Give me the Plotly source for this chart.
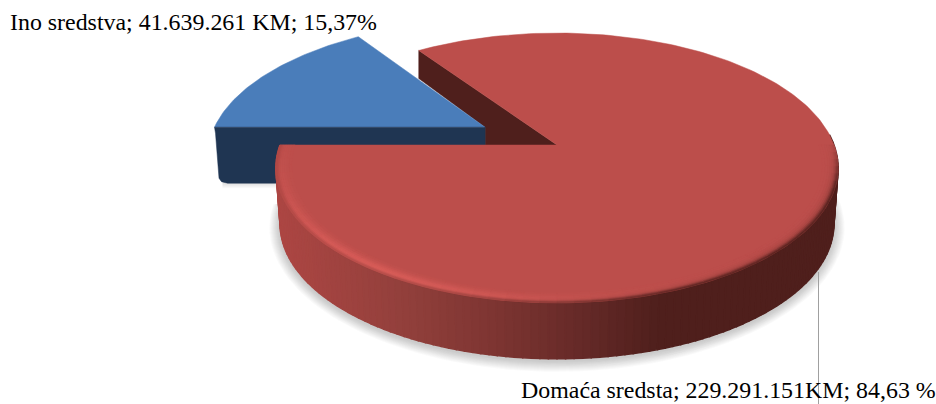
import numpy as np
import plotly.graph_objects as go

# --- data -------------------------------------------------------------
categories = ["Ino sredstva", "Domaća sredsta"]
values = [41639261, 229291151]
labels = ["Ino sredstva; 41.639.261 KM; 15,37%", "Domaća sredsta; 229.291.151KM; 84,63 %"]

# --- projection of the tilted disc onto the page ------------------------
W, H = 936, 404
CX, CY, SX, SY, PERSP = 557.0, 145.0, 277.0, 131.0, 0.17
DEPTH, INSET = 56.0, 0.985
EXPLODE = 0.30
START = 180.0  # first slice starts at the left, running clockwise

def project(X, Y):
    d = 1 + PERSP * np.asarray(Y)
    return CX + SX * np.asarray(X) / d, CY - SY * np.asarray(Y) / d

def disc(theta, r=1.0, ox=0.0, oy=0.0):
    t = np.radians(theta)
    return project(ox + r * np.cos(t), oy + r * np.sin(t))

def lower(x, y):
    return CX + (np.asarray(x) - CX) * INSET, np.asarray(y) + DEPTH

def hex2rgb(c):
    return np.array([int(c[i:i + 2], 16) for i in (1, 3, 5)], float)

def mix(a, b, t):
    return a + (b - a) * t

def css(c):
    return "rgb(%d,%d,%d)" % tuple(np.clip(np.round(c), 0, 255))

fig = go.Figure()

def poly(x, y, color, lw=1.0):
    x, y = list(np.ravel(x)), list(np.ravel(y))
    fig.add_trace(go.Scatter(x=x + x[:1], y=y + y[:1], mode="lines", fill="toself",
                             fillcolor=color, line=dict(color=color, width=lw),
                             hoverinfo="skip", showlegend=False))

RED_TOP, BLUE_TOP = "#BC4E4B", "#4A7DBA"
RED_WALL, BLUE_WALL = "#4F1F1C", "#1F3552"
total = sum(values)
blue_sweep = 360.0 * values[0] / total
blue_a, blue_b = START - blue_sweep, START       # blue spans these angles
red_a, red_b = START, START - blue_sweep + 360   # red spans these angles
mid = np.radians((blue_a + blue_b) / 2)
ox, oy = EXPLODE * np.cos(mid), EXPLODE * np.sin(mid)

# soft shadows (front part of the disc only)
th = np.linspace(180, 400, 111)
lx, ly = lower(*disc(th))
cxs, cys = CX, CY + 20
for d in range(11, 0, -1):
    dx, dy = lx - cxs, ly - cys
    n = np.hypot(dx, dy)
    poly(cxs + dx * (1 + d / n), cys + dy * (1 + d / n) + 2, "rgba(90,90,90,0.028)", 0)
bax, bay = disc(np.array([blue_b]), 1.0, ox, oy)
bbx, bby = project(ox, oy)
for d in range(5, 0, -1):
    poly([bax[0] + 8, bbx, bbx, bax[0] + 8], [bby + 40, bby + 40, bby + DEPTH + d, bby + DEPTH + d],
         "rgba(90,90,90,0.04)", 0)

# red cut wall at the back
wx, wy = disc(np.array([red_b]))
ax, ay = project(0.0, 0.0)
poly([wx[0], ax, bbx, bbx, wx[0]], [wy[0], ay, ay, bby, wy[0] + DEPTH * 0.5], RED_WALL, 0.5)

# blue slice: top face, then front wall with a rounded foot
th = np.linspace(blue_a, blue_b, 60)
tx, ty = disc(th, 1.0, ox, oy)
poly(np.r_[bbx, tx], np.r_[bby, ty], BLUE_TOP, 0.5)
cx0, cy0 = bax[0], bay[0]
poly([cx0, bbx, bbx, cx0 + 13, cx0 + 7, cx0 + 4.5, cx0 + 1],
     [cy0, cy0, cy0 + DEPTH, cy0 + DEPTH, cy0 + DEPTH - 1.5, cy0 + DEPTH - 5, cy0 + 6],
     BLUE_WALL, 0.5)

# red slice: side wall, shaded from left to right
side_stops_x = [280, 400, 500, 580, 660, 840]
side_stops = [hex2rgb(c) for c in ("#AC4643", "#93403C", "#7C3431", "#662A28", "#4F1F1C", "#4F1F1C")]

def side_color(x):
    return np.array([np.interp(x, side_stops_x, [s[i] for s in side_stops]) for i in range(3)])

edges = np.arange(180, 366, 1.5)
for a, b in zip(edges[:-1], edges[1:]):
    ux, uy = disc(np.array([a, b]))
    dx, dy = lower(ux, uy)
    poly([ux[0], ux[1], dx[1], dx[0]], [uy[0], uy[1], dy[1], dy[0]], css(side_color(ux.mean())), 1.5)

# red slice: top face
th = np.linspace(red_a, red_b, 240)
tx, ty = disc(th)
poly(np.r_[ax, tx], np.r_[ay, ty], RED_TOP, 0.5)

# red slice: bevel on the front rim
top = hex2rgb(RED_TOP)
hi = hex2rgb("#E4625E")
radii = [0.945, 0.955, 0.964, 0.972, 0.979, 0.985, 0.990, 0.995, 1.0]
rise = [0.08, 0.22, 0.42, 0.65, 0.85, 1.0, 0.9, 0.7]
fall = [0.0, 0.01, 0.04, 0.09, 0.18, 0.34, 0.6, 0.88]
edges = np.arange(180, 363, 3.0)
for a, b in zip(edges[:-1], edges[1:]):
    m = (a + b) / 2
    glow = np.exp(-((m - 238) / 42) ** 2)
    fade = np.clip((362 - m) / 20, 0, 1)
    sc = side_color(disc(np.array([m]))[0][0])
    for j, (r0, r1) in enumerate(zip(radii[:-1], radii[1:])):
        c = mix(top, hi, rise[j] * glow)
        c = mix(c, sc, fall[j] * (1 - 0.45 * glow))
        c = mix(top, c, fade)
        x0, y0 = disc(np.array([a, b]), r0)
        x1, y1 = disc(np.array([b, a]), r1)
        poly(np.r_[x0, x1], np.r_[y0, y1], css(c), 0.6)

# leader line
fig.add_trace(go.Scatter(x=[818.5, 818.5], y=[272, 404], mode="lines",
                         line=dict(color="#A0A0A0", width=1), hoverinfo="skip", showlegend=False))

font = dict(family="Liberation Serif", size=23.9, color="#000000")
fig.add_annotation(x=8, y=22, text=labels[0], showarrow=False, xanchor="left", yanchor="middle", font=font)
fig.add_annotation(x=519, y=390, text=labels[1], showarrow=False, xanchor="left", yanchor="middle", font=font)

fig.update_layout(width=W, height=H, margin=dict(l=0, r=0, t=0, b=0), autosize=False,
                  paper_bgcolor="white", plot_bgcolor="white", showlegend=False,
                  xaxis=dict(range=[0, W], visible=False, fixedrange=True),
                  yaxis=dict(range=[H, 0], visible=False, fixedrange=True))
fig.write_html("out.html", config={"displayModeBar": False},
               post_script="document.body.style.margin='0';document.documentElement.style.overflow='hidden';")
